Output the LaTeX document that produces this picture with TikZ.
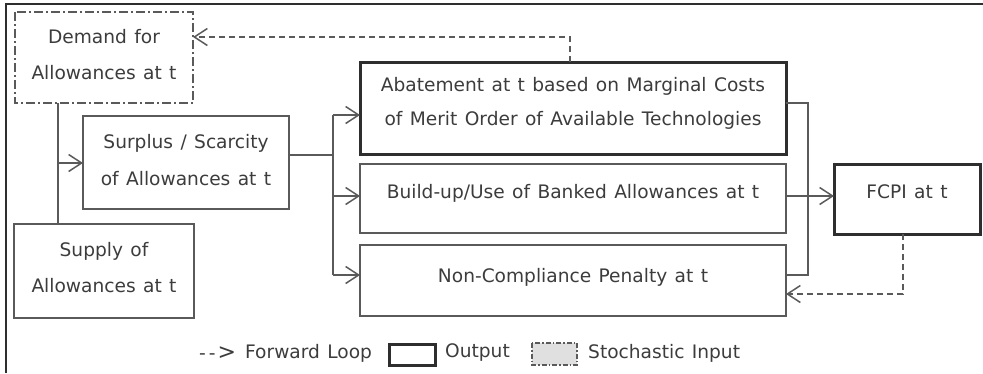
\documentclass[tikz,border=0pt]{standalone}
\usepackage{fontspec}
\setmainfont{DejaVu Sans}[WordSpace=1.25]
\usetikzlibrary{arrows.meta}
\definecolor{txt}{HTML}{3C3C3C}
\definecolor{ln}{HTML}{5A5A5A}
\definecolor{dk}{HTML}{2E2E2E}
\tikzset{
  every node/.style={text=txt, font=\fontsize{18.6}{27}\selectfont},
  plainbox/.style={draw=ln, line width=1.6pt},
  outbox/.style={draw=dk, line width=3pt},
  stochbox/.style={draw=ln, line width=1.6pt, dash pattern=on 9pt off 3pt on 2pt off 3pt},
  link/.style={draw=ln, line width=1.4pt},
  fwd/.style={draw=ln, line width=1.4pt, dash pattern=on 6pt off 4pt},
  tip/.style={-{Straight Barb[length=13pt,width=17pt,line width=1.5pt]}},
}
\begin{document}
\begin{tikzpicture}[x=1pt,y=-1pt]
\useasboundingbox (0,0) rectangle (983,373);
% frame
\draw[dk, line width=1.5pt] (6,373) -- (6,4) -- (983,4);

% demand (stochastic input)
\draw[stochbox] (15,12) rectangle (193,103);
\node at (104,37) {Demand for};
\node at (104,73) {Allowances at t};
\coordinate (demR) at (193,37);
\coordinate (demB) at (58,103);

% surplus / scarcity
\draw[plainbox] (83,116) rectangle (289,209);
\node at (186,143) {Surplus / Scarcity};
\node at (186,179) {of Allowances at t};
\coordinate (surL) at (83,163);
\coordinate (surR) at (289,155);

% supply
\draw[plainbox] (14,224) rectangle (194,318);
\node at (104,251) {Supply of};
\node at (104,286) {Allowances at t};
\coordinate (supT) at (58,224);

% abatement
\draw[outbox] (360,62) rectangle (786,154);
\node at (573,86) {Abatement at t based on Marginal Costs};
\node at (573,120) {of Merit Order of Available Technologies};
\coordinate (abL) at (360,115);
\coordinate (abR) at (786,103);
\coordinate (abT) at (570,62);

% banking
\draw[plainbox] (360,164) rectangle (786,233);
\node at (573,193) {Build-up/Use of Banked Allowances at t};
\coordinate (buL) at (360,196);
\coordinate (buR) at (786,196);

% penalty
\draw[plainbox] (360,245) rectangle (786,316);
\node at (573,277) {Non-Compliance Penalty at t};
\coordinate (ncL) at (360,275);
\coordinate (ncR) at (786,275);
\coordinate (ncR2) at (786,294);

% FCPI
\draw[outbox] (834,164) rectangle (980,234);
\node at (907,192) {FCPI at t};
\coordinate (fcL) at (834,196);
\coordinate (fcB) at (903,234);

% inputs to surplus / scarcity
\draw[link] (demB) -- (supT);
\draw[link, tip] (58,163) -- (surL);

% surplus / scarcity fans out
\draw[link] (surR) -- (333,155);
\draw[link] (333,115) -- (333,275);
\draw[link, tip] (333,115) -- (abL);
\draw[link, tip] (333,196) -- (buL);
\draw[link, tip] (333,275) -- (ncL);

% collection into FCPI
\draw[link] (abR) -- (808,103) -- (808,275) -- (ncR);
\draw[link, tip] (buR) -- (fcL);

% forward loops
\draw[fwd, tip] (fcB) -- (903,294) -- (ncR2);
\draw[fwd, tip] (abT) -- (570,37) -- (demR);

% legend
\node[anchor=west, inner sep=0pt] at (199,353) {-\kern3pt-\kern2pt{\fontsize{22}{22}\selectfont>}};
\node[anchor=west, inner sep=0pt] at (245,353) {Forward Loop};
\draw[outbox] (389,344) rectangle (435,365);
\node[anchor=west, inner sep=0pt] at (445,353) {Output};
\draw[stochbox, fill=black!12, line width=1.2pt, dash pattern=on 5pt off 2pt on 1.5pt off 2pt] (532,343) rectangle (577,365);
\node[anchor=west, inner sep=0pt] at (588,353) {Stochastic Input};
\end{tikzpicture}
\end{document}
